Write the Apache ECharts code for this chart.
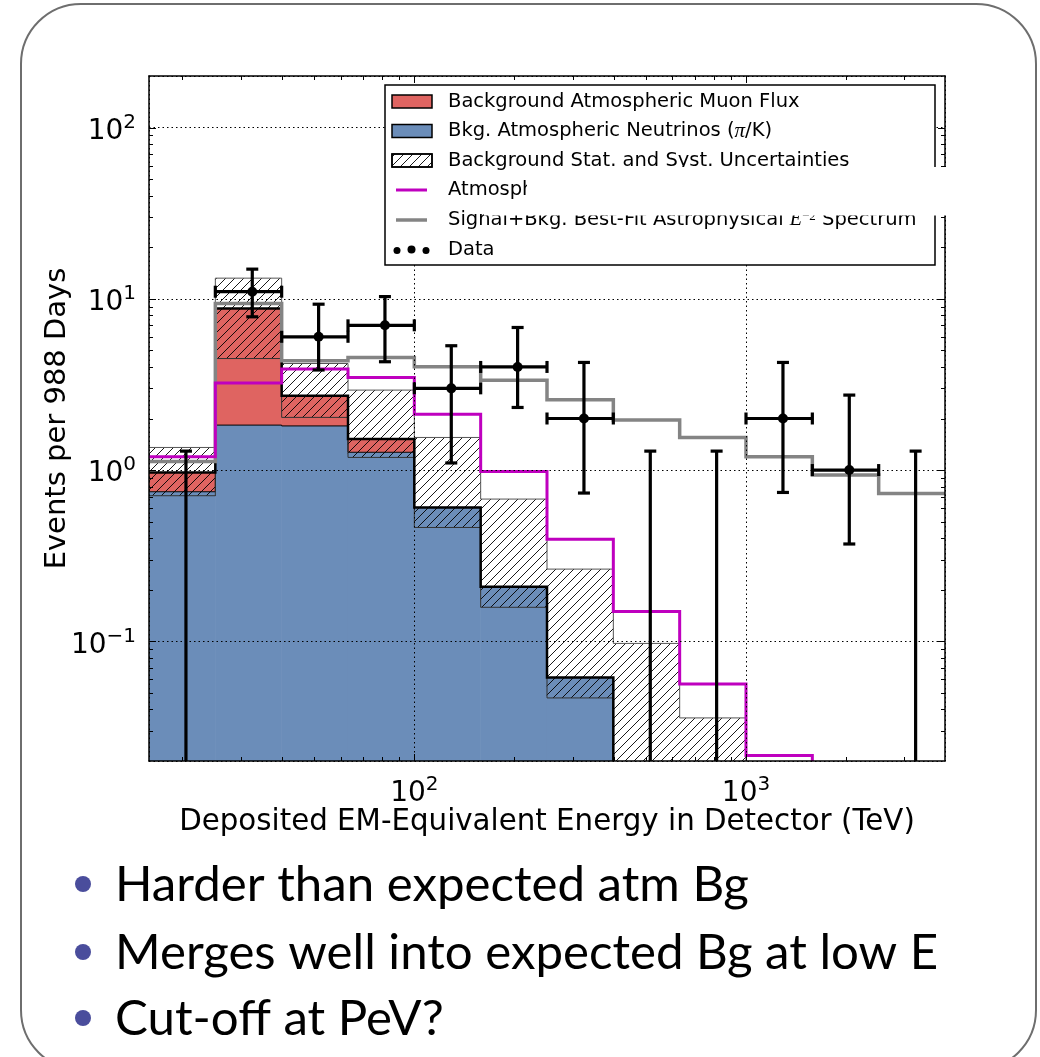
<!DOCTYPE html>
<html>
<head>
<meta charset="utf-8">
<script src="https://cdn.jsdelivr.net/npm/echarts@6/dist/echarts.min.js"></script>
<style>
  html, body { margin: 0; padding: 0; background: #fff; }
  #chart { width: 1040px; height: 1057px; }
</style>
</head>
<body>
<div id="chart"></div>
<script>
// Energy bins (TeV), five per decade
const binEdges = [15.85, 25.12, 39.81, 63.10, 100, 158.5, 251.2, 398.1, 631.0, 1000, 1585, 2512, 3981];

// Expected background per bin (events per 988 days)
const piKNeutrinos = [0.747, 1.83, 1.81, 1.27, 0.605, 0.208, 0.0615, 0, 0, 0, 0, 0];
const muonFlux     = [0.221, 6.95, 0.91, 0.25, 0, 0, 0, 0, 0, 0, 0, 0];
const uncLow       = [0.708, 4.48, 2.03, 1.185, 0.462, 0.158, 0.0467, 0, 0, 0, 0, 0];
const uncHigh      = [1.355, 13.2, 4.19, 2.93, 1.55, 0.677, 0.264, 0.0972, 0.0357, 0, 0, 0];

// Model curves
const charmLimit = [1.196, 3.22, 3.89, 3.47, 2.12, 0.98, 0.395, 0.1495, 0.0563, 0.0215, 0, 0];
const bestFitE2  = [1.123, 9.39, 4.35, 4.54, 4.01, 3.35, 2.57, 1.96, 1.55, 1.196, 0.935, 0.730];

// Observed events with 68% intervals
const dataCounts = [0, 11, 6, 7, 3, 4, 2, 0, 0, 2, 1, 0];
const dataLow    = [0, 7.85, 3.84, 4.29, 1.10, 2.32, 0.734, 0, 0, 0.74, 0.37, 0];
const dataHigh   = [1.29, 14.9, 9.3, 10.3, 5.32, 6.8, 4.25, 1.29, 1.29, 4.25, 2.74, 1.29];

// Tick positions
const xMajorTicks = [100, 1000];
const xMinorTicks = [20, 30, 40, 50, 60, 70, 80, 90, 200, 300, 400, 500, 600, 700, 800, 900, 2000, 3000];
const yMajorTicks = [0.1, 1, 10, 100];
const yMinorTicks = [0.03, 0.04, 0.05, 0.06, 0.07, 0.08, 0.09,
                     0.2, 0.3, 0.4, 0.5, 0.6, 0.7, 0.8, 0.9,
                     2, 3, 4, 5, 6, 7, 8, 9,
                     20, 30, 40, 50, 60, 70, 80, 90];

const bulletLines = ['Harder than expected atm Bg', 'Merges well into expected Bg at low E', 'Cut-off at PeV?'];

const RED = '#df6461', BLUE = '#6b8db9', MAGENTA = '#bf00bf', GRAY = '#848484';
const FONT = 'DejaVu Sans';
const X_MIN = binEdges[0], X_MAX = binEdges[binEdges.length - 1], Y_MIN = 0.02, Y_MAX = 200;

// diagonal '//' hatch tile
function hatchPattern() {
  const s = 9, c = document.createElement('canvas');
  c.width = s; c.height = s;
  const ctx = c.getContext('2d');
  ctx.strokeStyle = '#000'; ctx.lineWidth = 0.9;
  ctx.beginPath();
  ctx.moveTo(-1, s + 1); ctx.lineTo(s + 1, -1);
  ctx.moveTo(-1, 1); ctx.lineTo(1, -1);
  ctx.moveTo(s - 1, s + 1); ctx.lineTo(s + 1, s - 1);
  ctx.stroke();
  return { image: c, repeat: 'repeat' };
}
const HATCH = hatchPattern();

function logLabel(v) {
  const e = Math.log10(v), r = Math.round(e);
  if (Math.abs(e - r) > 1e-6) return '';
  return '{b|10}{s|' + (r < 0 ? '\u2212' : '') + Math.abs(r) + '}';
}
const labelRich = {
  b: { fontFamily: FONT, fontSize: 28, color: '#000', lineHeight: 30, padding: [8, 0, 0, 0] },
  s: { fontFamily: FONT, fontSize: 20, color: '#000', lineHeight: 20, verticalAlign: 'top' }
};

// filled histogram bars: [x0, x1, lo, hi]
function barSeries(items, style) {
  return {
    type: 'custom', silent: true, clip: true, data: items,
    encode: { x: [0, 1], y: 3 },
    renderItem(params, api) {
      const cs = params.coordSys;
      const x0 = api.coord([api.value(0), 1])[0];
      const x1 = api.coord([api.value(1), 1])[0];
      const lo = api.value(2), hi = api.value(3);
      const yTop = api.coord([api.value(0), hi])[1];
      const yBot = lo > 0 ? api.coord([api.value(0), lo])[1] : cs.y + cs.height + 4;
      const shape = echarts.graphic.clipRectByRect(
        { x: x0 - 0.25, y: yTop, width: x1 - x0 + 0.5, height: yBot - yTop },
        { x: cs.x, y: cs.y, width: cs.width, height: cs.height });
      if (!shape) return;
      return { type: 'rect', shape, style };
    }
  };
}

// histogram outline drawn as a step line
function stepSeries(values, color, width) {
  return {
    type: 'custom', silent: true, clip: true,
    data: [[binEdges[0], values.find(v => v > 0)]],
    encode: { x: 0, y: 1 },
    renderItem(params, api) {
      const cs = params.coordSys, below = cs.y + cs.height + 10;
      const pts = [];
      values.forEach((v, i) => {
        const xa = api.coord([binEdges[i], 1])[0];
        const xb = api.coord([binEdges[i + 1], 1])[0];
        const y = v > 0 ? api.coord([binEdges[i], v])[1] : below;
        pts.push([xa, y], [xb, y]);
      });
      return {
        type: 'polyline', shape: { points: pts },
        style: { stroke: color, lineWidth: width, fill: null, lineJoin: 'miter' }
      };
    }
  };
}

const bars = (lows, highs) => highs.map((h, i) => [binEdges[i], binEdges[i + 1], lows[i], h]).filter(d => d[3] > 0);
const totals = piKNeutrinos.map((v, i) => v + muonFlux[i]);

const dataItems = dataCounts.map((n, i) => {
  const x0 = binEdges[i], x1 = binEdges[i + 1];
  return [(x0 + x1) / 2, n, dataLow[i], dataHigh[i], x0, x1];
});

const tickItems = [
  ...xMajorTicks.map(v => [v, 1, 0]),
  ...xMinorTicks.map(v => [v, 1, 1]),
  ...yMajorTicks.map(v => [100, v, 2]),
  ...yMinorTicks.map(v => [100, v, 3])
];

const chart = echarts.init(document.getElementById('chart'));

const frameAxis = { show: true, onZero: false, lineStyle: { color: '#000', width: 1.5 } };
const grid = { left: 149, top: 76, width: 796, height: 685, show: false };

const option = {
  animation: false,
  backgroundColor: '#fff',
  grid,
  xAxis: [
    {
      type: 'log', logBase: 10, min: X_MIN, max: X_MAX, position: 'bottom', z: 3,
      axisLine: frameAxis, axisTick: { show: false }, minorTick: { show: false },
      splitLine: { show: true, lineStyle: { color: '#000', width: 1, type: [1.5, 3] } },
      axisLabel: { formatter: logLabel, rich: labelRich, margin: 14, showMinLabel: false, showMaxLabel: false },
      name: 'Deposited EM-Equivalent Energy in Detector (TeV)',
      nameLocation: 'middle', nameGap: 47, nameMoveOverlap: false,
      nameTextStyle: { fontFamily: FONT, fontSize: 29.3, color: '#000' }
    },
    {
      type: 'log', logBase: 10, min: X_MIN, max: X_MAX, position: 'top', z: 3,
      axisLine: frameAxis, axisTick: { show: false }, axisLabel: { show: false }, splitLine: { show: false }
    }
  ],
  yAxis: [
    {
      type: 'log', logBase: 10, min: Y_MIN, max: Y_MAX, position: 'left', z: 3,
      axisLine: frameAxis, axisTick: { show: false }, minorTick: { show: false },
      splitLine: { show: true, lineStyle: { color: '#000', width: 1, type: [1.5, 3] } },
      axisLabel: { formatter: logLabel, rich: labelRich, margin: 13, showMinLabel: false, showMaxLabel: false },
      name: 'Events per 988 Days',
      nameLocation: 'middle', nameGap: 77, nameRotate: 90, nameMoveOverlap: false,
      nameTextStyle: { fontFamily: FONT, fontSize: 29, color: '#000' }
    },
    {
      type: 'log', logBase: 10, min: Y_MIN, max: Y_MAX, position: 'right', z: 3,
      axisLine: frameAxis, axisTick: { show: false }, axisLabel: { show: false }, splitLine: { show: false }
    }
  ],
  series: [
    barSeries(bars(piKNeutrinos.map(() => 0), piKNeutrinos), { fill: BLUE }),
    barSeries(bars(piKNeutrinos, totals).filter(d => d[3] > d[2]), { fill: RED }),
    stepSeries(piKNeutrinos, '#000', 1),
    barSeries(bars(uncLow, uncHigh), { fill: HATCH }),
    stepSeries(uncHigh, '#555', 1),
    stepSeries(uncLow, '#333', 1),
    stepSeries(totals, '#000', 2.5),
    stepSeries(bestFitE2, GRAY, 3.5),
    stepSeries(charmLimit, MAGENTA, 3),
    {
      type: 'custom', silent: true, clip: true, data: dataItems,
      encode: { x: 0, y: 3 },
      renderItem(params, api) {
        const cs = params.coordSys, bottom = cs.y + cs.height + 6;
        const xc = api.value(0), n = api.value(1), lo = api.value(2), hi = api.value(3);
        const px = api.coord([xc, 1])[0];
        const yHi = api.coord([xc, hi])[1];
        const yLo = lo > 0 ? api.coord([xc, lo])[1] : bottom;
        const st = { stroke: '#000', lineWidth: 3.2 };
        const C = 6;
        const kids = [
          { type: 'line', shape: { x1: px, y1: yLo, x2: px, y2: yHi }, style: st },
          { type: 'line', shape: { x1: px - C, y1: yHi, x2: px + C, y2: yHi }, style: st }
        ];
        if (lo > 0) kids.push({ type: 'line', shape: { x1: px - C, y1: yLo, x2: px + C, y2: yLo }, style: st });
        if (n > 0) {
          const yc = api.coord([xc, n])[1];
          const pa = api.coord([api.value(4), 1])[0], pb = api.coord([api.value(5), 1])[0];
          kids.push(
            { type: 'line', shape: { x1: pa, y1: yc, x2: pb, y2: yc }, style: st },
            { type: 'line', shape: { x1: pa, y1: yc - C, x2: pa, y2: yc + C }, style: st },
            { type: 'line', shape: { x1: pb, y1: yc - C, x2: pb, y2: yc + C }, style: st },
            { type: 'circle', shape: { cx: px, cy: yc, r: 5 }, style: { fill: '#000' } }
          );
        }
        return { type: 'group', children: kids };
      }
    },
    {
      // inward ticks on all four sides
      type: 'custom', silent: true, z: 4, data: tickItems,
      encode: { x: 0, y: 1 },
      renderItem(params, api) {
        const cs = params.coordSys, k = api.value(2);
        const st = { stroke: '#000', lineWidth: 1 };
        if (k < 2) {
          const px = Math.round(api.coord([api.value(0), 1])[0]) + 0.5, L = k === 0 ? 7 : 4;
          return { type: 'group', children: [
            { type: 'line', shape: { x1: px, y1: cs.y + cs.height, x2: px, y2: cs.y + cs.height - L }, style: st },
            { type: 'line', shape: { x1: px, y1: cs.y, x2: px, y2: cs.y + L }, style: st }
          ] };
        }
        const py = Math.round(api.coord([100, api.value(1)])[1]) + 0.5, L = k === 2 ? 7 : 4;
        return { type: 'group', children: [
          { type: 'line', shape: { x1: cs.x, y1: py, x2: cs.x + L, y2: py }, style: st },
          { type: 'line', shape: { x1: cs.x + cs.width, y1: py, x2: cs.x + cs.width - L, y2: py }, style: st }
        ] };
      }
    }
  ],
  graphic: []
};

// slide frame
const g = option.graphic;
g.push({ type: 'rect', z: 0, shape: { x: 21, y: 4, width: 1015, height: 1066, r: 60 },
         style: { fill: null, stroke: '#6e6e6e', lineWidth: 2 } });

// legend box
const LX = 385, LY = 85, rows = [101.5, 131, 160.5, 190, 220, 250];
const legText = (y, text, rich) => ({ type: 'text', z: 100, x: 448, y,
  style: { text, rich, fontFamily: FONT, fontSize: 19.5, fill: '#000', verticalAlign: 'middle', align: 'left' } });
const patch = (y, fill) => ({ type: 'rect', z: 100, shape: { x: 392, y: y - 6.5, width: 40, height: 13 },
  style: { fill, stroke: '#000', lineWidth: 1.5 } });
g.push(
  { type: 'rect', z: 100, shape: { x: LX, y: LY, width: 550, height: 180 }, style: { fill: '#fff', stroke: '#000', lineWidth: 1.5 } },
  patch(rows[0], RED), legText(rows[0], 'Background Atmospheric Muon Flux'),
  patch(rows[1], BLUE),
  legText(rows[1], '{n|Bkg. Atmospheric Neutrinos (}{m|\u03c0}{n|/K)}', {
    n: { fontFamily: FONT, fontSize: 19.5, fill: '#000' },
    m: { fontFamily: 'Liberation Serif', fontStyle: 'italic', fontSize: 21, fill: '#000' } }),
  patch(rows[2], '#fff'),
  { type: 'rect', z: 101, shape: { x: 392, y: rows[2] - 6.5, width: 40, height: 13 }, style: { fill: HATCH, stroke: '#000', lineWidth: 1.5 } },
  legText(rows[2], 'Background Stat. and Syst. Uncertainties'),
  { type: 'line', z: 100, shape: { x1: 396, y1: rows[3], x2: 427, y2: rows[3] }, style: { stroke: MAGENTA, lineWidth: 3 } },
  legText(rows[3], 'Atmospheric Neutrinos (90% CL Charm Limit)'),
  { type: 'line', z: 100, shape: { x1: 396, y1: rows[4], x2: 427, y2: rows[4] }, style: { stroke: GRAY, lineWidth: 3.5 } },
  legText(rows[4], '{n|Signal+Bkg. Best-Fit Astrophysical }{e|E}{s|\u22122}{n| Spectrum}', {
    n: { fontFamily: FONT, fontSize: 19.5, fill: '#000' },
    e: { fontFamily: 'Liberation Serif', fontStyle: 'italic', fontSize: 20, fill: '#000' },
    s: { fontFamily: 'Liberation Serif', fontSize: 13, fill: '#000', verticalAlign: 'top', lineHeight: 14 } }),
  { type: 'circle', z: 100, shape: { cx: 397, cy: rows[5] + 0.5, r: 3.5 }, style: { fill: '#000' } },
  { type: 'circle', z: 100, shape: { cx: 411.5, cy: rows[5] - 0.5, r: 4 }, style: { fill: '#000' } },
  { type: 'circle', z: 100, shape: { cx: 426, cy: rows[5] + 0.5, r: 3.5 }, style: { fill: '#000' } },
  legText(rows[5], 'Data')
);

// overlapping slide text box
g.push(
  { type: 'rect', z: 110, shape: { x: 527, y: 167, width: 423, height: 48.5 }, style: { fill: '#fff' } },
  { type: 'rect', z: 110, shape: { x: 484, y: 200, width: 43, height: 15.5 }, style: { fill: '#fff' } }
);

// bullet points
const bulletY = [885, 953, 1019];
bulletLines.forEach((t, i) => {
  g.push(
    { type: 'circle', z: 100, shape: { cx: 83, cy: bulletY[i] - 1, r: 8 }, style: { fill: '#4a4d9c' } },
    { type: 'text', z: 100, x: 115, y: bulletY[i],
      style: { text: t, fontFamily: 'Lato', fontSize: 49.2, fill: '#000', verticalAlign: 'middle', align: 'left' } }
  );
});

chart.setOption(option);
</script>
</body>
</html>
